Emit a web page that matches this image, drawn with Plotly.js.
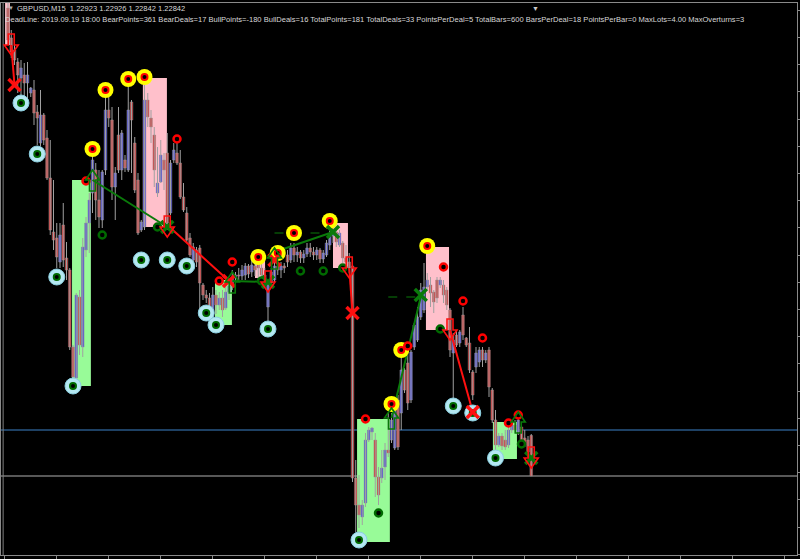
<!DOCTYPE html>
<html><head><meta charset="utf-8">
<script src="https://cdn.plot.ly/plotly-3.0.1.min.js"></script>
<style>html,body{margin:0;padding:0;background:#000;}#chart{width:800px;height:559px;}</style>
</head><body><div id="chart"></div>
<script>
// ---- candles (bar index 0..161), prices ----
const OPEN = [1.23778,1.23718,1.23694,1.23670,1.23638,1.23644,1.23628,1.23608,1.23614,1.23570,
1.23508,1.23564,1.23518,1.23438,1.23330,1.23318,1.23270,1.23344,1.23278,1.23254,
1.23100,1.23038,1.23200,1.23100,1.23294,1.23348,1.23408,1.23454,1.23394,1.23354,
1.23454,1.23574,1.23554,1.23420,1.23524,1.23454,1.23474,1.23454,1.23590,1.23508,
1.23434,1.23334,1.23340,1.23594,1.23558,1.23524,1.23408,1.23430,1.23474,1.23488,
1.23368,1.23474,1.23488,1.23468,1.23400,1.23368,1.23318,1.23274,1.23294,1.23298,
1.23224,1.23204,1.23198,1.23170,1.23204,1.23184,1.23198,1.23178,1.23210,1.23222,
1.23238,1.23244,1.23242,1.23244,1.23262,1.23250,1.23262,1.23270,1.23258,1.23244,
1.23180,1.23228,1.23234,1.23262,1.23254,1.23262,1.23284,1.23274,1.23298,1.23284,
1.23290,1.23278,1.23286,1.23298,1.23290,1.23284,1.23294,1.23276,1.23284,1.23304,
1.23322,1.23330,1.23304,1.23308,1.23278,1.23270,1.23262,1.22838,1.22784,1.22760,
1.22788,1.22914,1.22930,1.22914,1.22840,1.22838,1.22860,1.22894,1.22914,1.22898,
1.22994,1.22968,1.23054,1.23068,1.22994,1.23100,1.23114,1.23160,1.23174,1.23220,
1.23224,1.23210,1.23234,1.23224,1.23224,1.23214,1.23174,1.23088,1.23124,1.23108,
1.23164,1.23118,1.23108,1.23050,1.23060,1.23070,1.23094,1.23074,1.23094,1.23014,
1.22954,1.22904,1.22922,1.22914,1.22904,1.22934,1.22944,1.22930,1.22940,1.22918,
1.22914,1.22923];
const HIGH = [1.23794,1.23734,1.23708,1.23678,1.23674,1.23668,1.23670,1.23620,1.23634,1.23584,
1.23614,1.23568,1.23534,1.23514,1.23434,1.23348,1.23348,1.23388,1.23310,1.23258,
1.23104,1.23208,1.23214,1.23318,1.23360,1.23408,1.23488,1.23468,1.23454,1.23454,
1.23600,1.23600,1.23580,1.23460,1.23580,1.23534,1.23484,1.23634,1.23594,1.23520,
1.23448,1.23354,1.23634,1.23608,1.23574,1.23540,1.23500,1.23514,1.23488,1.23528,
1.23474,1.23508,1.23508,1.23494,1.23428,1.23380,1.23328,1.23308,1.23300,1.23304,
1.23228,1.23214,1.23208,1.23220,1.23214,1.23210,1.23214,1.23220,1.23228,1.23254,
1.23250,1.23258,1.23264,1.23268,1.23266,1.23274,1.23270,1.23274,1.23270,1.23258,
1.23234,1.23258,1.23270,1.23270,1.23270,1.23268,1.23294,1.23308,1.23308,1.23300,
1.23294,1.23294,1.23308,1.23308,1.23300,1.23300,1.23298,1.23294,1.23314,1.23334,
1.23340,1.23340,1.23334,1.23312,1.23304,1.23288,1.23274,1.22874,1.22844,1.22794,
1.22928,1.22940,1.22940,1.22928,1.22860,1.22894,1.22908,1.22968,1.22968,1.22994,
1.23004,1.23080,1.23058,1.23094,1.23094,1.23148,1.23180,1.23228,1.23268,1.23248,
1.23240,1.23214,1.23240,1.23240,1.23234,1.23220,1.23178,1.23128,1.23134,1.23134,
1.23180,1.23120,1.23140,1.23054,1.23100,1.23100,1.23100,1.23094,1.23100,1.23018,
1.22974,1.22928,1.22928,1.22934,1.22940,1.22954,1.22954,1.22964,1.22944,1.22934,
1.22922,1.22926];
const LOW = [1.23704,1.23678,1.23664,1.23608,1.23604,1.23600,1.23590,1.23600,1.23544,1.23504,
1.23502,1.23504,1.23434,1.23324,1.23294,1.23258,1.23258,1.23260,1.23234,1.23094,
1.23034,1.23034,1.23084,1.23080,1.23280,1.23288,1.23368,1.23354,1.23338,1.23338,
1.23444,1.23540,1.23394,1.23354,1.23448,1.23434,1.23450,1.23450,1.23448,1.23408,
1.23324,1.23330,1.23334,1.23540,1.23508,1.23420,1.23400,1.23428,1.23414,1.23334,
1.23364,1.23468,1.23464,1.23396,1.23370,1.23310,1.23280,1.23260,1.23260,1.23174,
1.23194,1.23188,1.23158,1.23166,1.23166,1.23174,1.23160,1.23174,1.23194,1.23214,
1.23226,1.23234,1.23234,1.23234,1.23238,1.23240,1.23242,1.23234,1.23234,1.23224,
1.23144,1.23224,1.23230,1.23244,1.23238,1.23248,1.23260,1.23268,1.23270,1.23270,
1.23268,1.23268,1.23280,1.23280,1.23274,1.23274,1.23268,1.23268,1.23280,1.23294,
1.23308,1.23300,1.23300,1.23268,1.23264,1.23248,1.22830,1.22730,1.22738,1.22744,
1.22780,1.22910,1.22914,1.22800,1.22784,1.22828,1.22834,1.22880,1.22908,1.22894,
1.22894,1.22934,1.23008,1.22974,1.22988,1.23094,1.23110,1.23154,1.23168,1.23214,
1.23180,1.23168,1.23188,1.23218,1.23188,1.23174,1.23080,1.22994,1.23100,1.23100,
1.23114,1.23100,1.23048,1.22994,1.23048,1.23060,1.23060,1.23068,1.23000,1.22948,
1.22894,1.22900,1.22894,1.22894,1.22898,1.22928,1.22928,1.22924,1.22900,1.22900,
1.22880,1.22842];
const CLOSE = [1.23714,1.23690,1.23674,1.23644,1.23658,1.23628,1.23644,1.23618,1.23568,1.23558,
1.23564,1.23514,1.23438,1.23334,1.23314,1.23280,1.23324,1.23274,1.23254,1.23100,
1.23040,1.23204,1.23104,1.23300,1.23348,1.23394,1.23474,1.23394,1.23360,1.23450,
1.23574,1.23558,1.23420,1.23448,1.23454,1.23528,1.23458,1.23574,1.23554,1.23414,
1.23328,1.23350,1.23594,1.23560,1.23540,1.23454,1.23428,1.23484,1.23454,1.23348,
1.23468,1.23494,1.23468,1.23400,1.23374,1.23314,1.23284,1.23300,1.23270,1.23228,
1.23204,1.23198,1.23174,1.23204,1.23184,1.23198,1.23174,1.23210,1.23222,1.23238,
1.23244,1.23242,1.23254,1.23262,1.23246,1.23264,1.23254,1.23258,1.23244,1.23230,
1.23228,1.23250,1.23262,1.23254,1.23262,1.23258,1.23270,1.23298,1.23284,1.23290,
1.23278,1.23286,1.23298,1.23290,1.23284,1.23294,1.23276,1.23288,1.23308,1.23322,
1.23330,1.23310,1.23328,1.23278,1.23270,1.23258,1.22838,1.22784,1.22764,1.22784,
1.22914,1.22934,1.22938,1.22840,1.22804,1.22858,1.22894,1.22888,1.22954,1.22984,
1.22900,1.23054,1.23014,1.22988,1.23090,1.23144,1.23160,1.23214,1.23220,1.23234,
1.23208,1.23190,1.23198,1.23234,1.23204,1.23184,1.23094,1.23114,1.23104,1.23130,
1.23124,1.23104,1.23054,1.23004,1.23088,1.23094,1.23074,1.23088,1.23020,1.22954,
1.22904,1.22922,1.22902,1.22900,1.22934,1.22944,1.22934,1.22954,1.22910,1.22904,
1.22890,1.22842];

// ---- signal markers ----
const YELLOW_BAR = [26,30,37,42,77,83,88,99,118,121,129];
const YELLOW_PRICE = [1.23496,1.23614,1.23636,1.23640,1.23280,1.23288,1.23328,1.23352,1.22986,1.23094,1.23302];
const LBLUE_BAR = [4,9,15,20,41,49,55,61,64,80,108,137,143,150];
const LBLUE_PRICE = [1.23588,1.23486,1.23240,1.23022,1.23274,1.23274,1.23262,1.23168,1.23144,1.23136,1.22714,1.22982,1.22968,1.22878];
const RRING_BAR = [24,52,65,69,110,123,134,140,146,154,157];
const RRING_PRICE = [1.23432,1.23516,1.23232,1.23270,1.22956,1.23102,1.23260,1.23192,1.23118,1.22948,1.22964];
const GRING_BAR = [29,46,78,90,97,103,114,133,158];
const GRING_PRICE = [1.23324,1.23340,1.23232,1.23252,1.23252,1.23258,1.22768,1.23136,1.22906];
const REDX_BAR = [2,68,82,106,143];
const REDX_PRICE = [1.23624,1.23232,1.23274,1.23168,1.22970];
const GREENX_BAR = [49,80,100,127,161];
const GREENX_PRICE = [1.23340,1.23230,1.23330,1.23204,1.22878];
const DOWNARROW_BAR = [1,49,80,105,136,161];
const DOWNARROW_TIP = [1.23684,1.23320,1.23210,1.23238,1.23114,1.22858];
const UPARROW_BAR = [26,69,82,118,157];
const UPARROW_TIP = [1.23454,1.23250,1.23298,1.22978,1.22970];

// ---- trades ----
const BULL_X0 = [26,69,82,118], BULL_Y0 = [1.23434,1.23232,1.23290,1.22958];
const BULL_X1 = [49,80,100,127], BULL_Y1 = [1.23340,1.23230,1.23330,1.23200];
const BEAR_X0 = [1,49,105,136], BEAR_Y0 = [1.23704,1.23344,1.23258,1.23134];
const BEAR_X1 = [2,68,106,143], BEAR_Y1 = [1.23624,1.23232,1.23168,1.22970];
const GTARGET_X0 = [82,117], GTARGET_X1 = [98,126], GTARGET_Y = [1.23328,1.23200];
const RTARGET_X0 = [136], RTARGET_X1 = [142], RTARGET_Y = [1.22974];

// ---- deal rectangles ----
const RECT_X0 = [-0.9,19.7,41.5,63.7,76,100,107.4,128.6,149.2];
const RECT_X1 = [0.6,25.5,48.9,68.9,79.1,104.6,117.5,135.7,156.6];
const RECT_TOP = [1.23794,1.23434,1.23638,1.23234,1.23278,1.23348,1.22956,1.23300,1.22950];
const RECT_BOTTOM = [1.23704,1.23022,1.23340,1.23144,1.23238,1.23258,1.22710,1.23134,1.22876];
const RECT_KIND = ['bear','bull','bear','bull','bear','bear','bull','bear','bull'];

const BLUE_LEVEL = 1.22934;
const BID = 1.22842;
const DEADLINE_BAR = -1.5;

const HEADER1 = 'GBPUSD,M15&nbsp; 1.22923 1.22926 1.22842 1.22842';
const HEADER2 = 'DeadLine: 2019.09.19 18:00 BearPoints=361 BearDeals=17 BullPoints=-180 BullDeals=16 TotalPoints=181 TotalDeals=33 PointsPerDeal=5 TotalBars=600 BarsPerDeal=18 PointsPerBar=0 MaxLots=4.00 MaxOverturns=3';

// ---- build ----
const N = OPEN.length;
const idx = OPEN.map((_, i) => i);
const wx = [], wy = [];
for (let i = 0; i < N; i++) { wx.push(i, i, null); wy.push(HIGH[i], LOW[i], null); }
const bodyColor = idx.map(i => CLOSE[i] < OPEN[i] ? '#e02828' : '#4646e6');

function segs(x0, y0, x1, y1) {
  const x = [], y = [];
  for (let k = 0; k < x0.length; k++) { x.push(x0[k], x1[k], null); y.push(y0[k], y1[k], null); }
  return {x, y};
}
const bull = segs(BULL_X0, BULL_Y0, BULL_X1, BULL_Y1);
const bear = segs(BEAR_X0, BEAR_Y0, BEAR_X1, BEAR_Y1);
const gt = segs(GTARGET_X0, GTARGET_Y, GTARGET_X1, GTARGET_Y);
const rt = segs(RTARGET_X0, RTARGET_Y, RTARGET_X1, RTARGET_Y);

const GREEN = '#0a7a0a', RED = '#ff1010', DKGREEN = '#006a00';
const traces = [
  {type:'scatter', mode:'lines', x:wx, y:wy, line:{color:'#a0a0a0', width:1}, hoverinfo:'skip'},
  {type:'bar', x:idx, base:OPEN, y:idx.map(i => CLOSE[i] - OPEN[i]), width:0.8,
   marker:{color:bodyColor, line:{color:'#909090', width:0.5}}, hoverinfo:'skip'},
  {type:'scatter', mode:'lines', x:gt.x, y:gt.y, line:{color:GREEN, width:1, dash:'dash'}},
  {type:'scatter', mode:'lines', x:rt.x, y:rt.y, line:{color:RED, width:1, dash:'dash'}},
  {type:'scatter', mode:'lines', x:bull.x, y:bull.y, line:{color:GREEN, width:2}},
  {type:'scatter', mode:'lines', x:bear.x, y:bear.y, line:{color:RED, width:2}},
  {type:'scatter', mode:'markers', x:YELLOW_BAR, y:YELLOW_PRICE, marker:{symbol:'circle', size:16, color:'#ffff00'}},
  {type:'scatter', mode:'markers', x:YELLOW_BAR, y:YELLOW_PRICE, marker:{symbol:'circle', size:6, color:'#000', line:{color:'#ff0000', width:2}}},
  {type:'scatter', mode:'markers', x:LBLUE_BAR, y:LBLUE_PRICE, marker:{symbol:'circle', size:16, color:'#b4e8f2', line:{color:'#8ccfe0', width:1}}},
  {type:'scatter', mode:'markers', x:LBLUE_BAR, y:LBLUE_PRICE, marker:{symbol:'circle', size:6, color:'#000', line:{color:DKGREEN, width:2}}},
  {type:'scatter', mode:'markers', x:RRING_BAR, y:RRING_PRICE, marker:{symbol:'circle', size:7, color:'#000', line:{color:'#ff0000', width:2.5}}},
  {type:'scatter', mode:'markers', x:GRING_BAR, y:GRING_PRICE, marker:{symbol:'circle', size:7, color:'#000', line:{color:DKGREEN, width:2.5}}},
  {type:'scatter', mode:'markers', x:REDX_BAR, y:REDX_PRICE, marker:{symbol:'x-thin-open', size:12, color:RED, line:{color:RED, width:3.5}}},
  {type:'scatter', mode:'markers', x:GREENX_BAR, y:GREENX_PRICE, marker:{symbol:'x-thin-open', size:12, color:GREEN, line:{color:GREEN, width:3.5}}}
];

const shapes = [];
for (let k = 0; k < RECT_X0.length; k++) {
  shapes.push({type:'rect', xref:'x', yref:'y', x0:RECT_X0[k], x1:RECT_X1[k], y0:RECT_BOTTOM[k], y1:RECT_TOP[k],
    fillcolor: RECT_KIND[k] === 'bear' ? '#ffc0cb' : '#98fb98', line:{width:0}, layer:'below'});
}
shapes.push({type:'line', xref:'paper', yref:'y', x0:0, x1:1, y0:BLUE_LEVEL, y1:BLUE_LEVEL, line:{color:'#3c82c8', width:1}, layer:'below'});
shapes.push({type:'line', xref:'paper', yref:'y', x0:0, x1:1, y0:BID, y1:BID, line:{color:'#b0b0b0', width:1}, layer:'below'});
shapes.push({type:'line', xref:'x', yref:'paper', x0:DEADLINE_BAR, x1:DEADLINE_BAR, y0:0, y1:1, line:{color:'#808080', width:1}, layer:'below'});

function arrow(bar, tip, dir, color) {
  const s = dir; // +1: down arrow (body above tip); -1: up arrow
  const p = 'M0,0 L-7,' + 10*s + ' L-3,' + 10*s + ' L-3,' + 21*s + ' L3,' + 21*s + ' L3,' + 10*s + ' L7,' + 10*s + ' Z';
  return {type:'path', xref:'x', yref:'y', xsizemode:'pixel', ysizemode:'pixel', xanchor:bar, yanchor:tip,
    path:p, line:{color:color, width:1.6}, fillcolor:'rgba(0,0,0,0)', layer:'above'};
}
DOWNARROW_BAR.forEach((b, k) => shapes.push(arrow(b, DOWNARROW_TIP[k], 1, RED)));
UPARROW_BAR.forEach((b, k) => shapes.push(arrow(b, UPARROW_TIP[k], -1, GREEN)));

const font = {family:'Liberation Sans, Arial, sans-serif', size:7.55, color:'#d8d8d8'};
const annotations = [
  {xref:'paper', yref:'paper', x:0, y:1, xanchor:'left', yanchor:'middle', xshift:5, yshift:-5, showarrow:false,
   text:'▼', font:{family:font.family, size:6, color:'#b0b0b0'}},
  {xref:'paper', yref:'paper', x:0, y:1, xanchor:'left', yanchor:'middle', xshift:14, yshift:-5, showarrow:false,
   text:HEADER1, font:font},
  {xref:'paper', yref:'paper', x:0, y:1, xanchor:'left', yanchor:'middle', xshift:2, yshift:-16, showarrow:false,
   text:HEADER2, font:font},
  {xref:'x', yref:'paper', x:N + 0.2, y:1, xanchor:'center', yanchor:'top', yshift:0, showarrow:false,
   text:'▼', font:{family:font.family, size:7, color:'#c8c8c8'}}
];

const layout = {
  width:800, height:559,
  margin:{l:1, r:3, t:3, b:4, pad:0},
  paper_bgcolor:'#000', plot_bgcolor:'#000',
  showlegend:false, hovermode:false,
  xaxis:{range:[-2.154, 242.77], showgrid:false, zeroline:false, showticklabels:false,
    showline:true, mirror:true, linecolor:'#8a8a8a', linewidth:1,
    ticks:'outside', ticklen:4, tickcolor:'#8a8a8a', tick0:15, dtick:16},
  yaxis:{range:[1.22684, 1.23788], side:'right', showgrid:false, zeroline:false, showticklabels:false,
    showline:true, mirror:true, linecolor:'#8a8a8a', linewidth:1,
    ticks:'outside', ticklen:3, tickcolor:'#8a8a8a', tick0:1.23012, dtick:0.000544},
  shapes:shapes, annotations:annotations, bargap:0
};
Plotly.newPlot('chart', traces, layout, {staticPlot:true, displayModeBar:false});
</script></body></html>
